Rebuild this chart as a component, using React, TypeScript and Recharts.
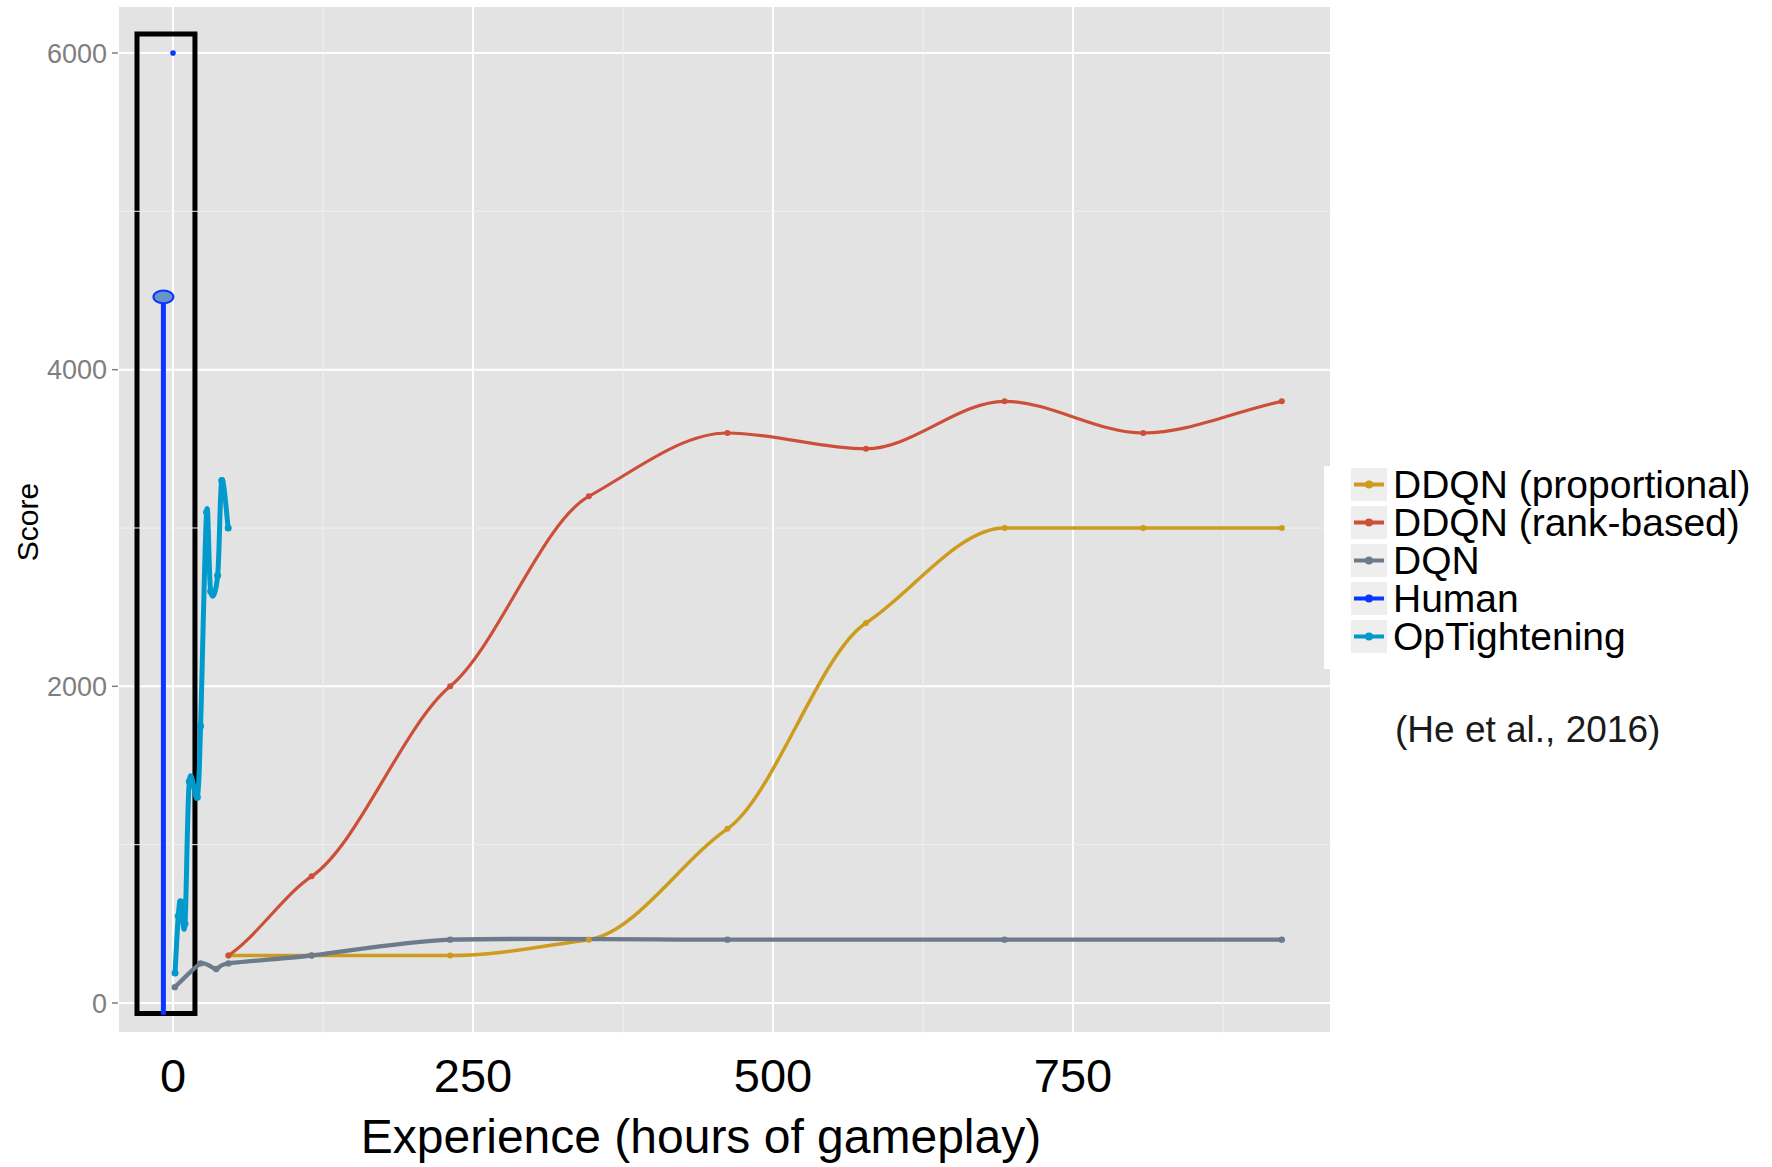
import { LineChart, Line, XAxis, YAxis, CartesianGrid, ReferenceArea, ReferenceLine } from 'recharts';

// hours of gameplay at which the DDQN agents were evaluated
const hours = [46.2, 115.5, 231, 346.5, 462, 577.5, 693, 808.5, 924];
const ddqnProportional = [300, 300, 300, 400, 1100, 2400, 3000, 3000, 3000];
const ddqnRank = [300, 800, 2000, 3200, 3600, 3500, 3800, 3600, 3800];

const dqnHours = [1.5, 23, 36, 46.2, 115.5, 231, 462, 693, 924];
const dqnScores = [100, 250, 215, 250, 300, 400, 400, 400, 400];

const opHours = [1.7, 4.4, 6.4, 10, 13.6, 20.3, 23, 28, 31.4, 37.2, 40.6, 46];
const opScores = [190, 550, 640, 500, 1400, 1300, 1750, 3100, 2600, 2700, 3300, 3000];

const humanHours = [-8, -8];
const humanScores = [-75, 4460];
const humanBestHours = [0];
const humanBestScores = [6000];

// black box drawn round the first hours
const boxHours = [-30, 18.3];
const boxScores = [-66, 6120];

const xTicks = [0, 250, 500, 750];
const xMinor = [125, 375, 625, 875];
const yTicks = [0, 2000, 4000, 6000];
const yMinor = [1000, 3000, 5000];

const series = [
    { name: 'DDQN (proportional)', color: '#CD9B1D' },
    { name: 'DDQN (rank-based)', color: '#CD4F39' },
    { name: 'DQN', color: '#6C7B8B' },
    { name: 'Human', color: '#0a36ff' },
    { name: 'OpTightening', color: '#009ACD' },
];

const zip = (xs: number[], ys: number[]) => xs.map((x, i) => ({ x, y: ys[i] }));

const FONT = '"Liberation Sans", Arial, Helvetica, sans-serif';

// cardinal spline through the points, tangents shrunk by the tension
const cardinal = (tension: number) => (context: any) => {
    let pts: number[][] = [];
    const k = (1 - tension) / 6;
    return {
        areaStart() {},
        areaEnd() {},
        lineStart() {
            pts = [];
        },
        lineEnd() {
            const n = pts.length;
            if (!n) return;
            context.moveTo(pts[0][0], pts[0][1]);
            for (let i = 0; i < n - 1; i++) {
                const p0 = pts[Math.max(i - 1, 0)];
                const p1 = pts[i];
                const p2 = pts[i + 1];
                const p3 = pts[Math.min(i + 2, n - 1)];
                context.bezierCurveTo(
                    p1[0] + (p2[0] - p0[0]) * k,
                    p1[1] + (p2[1] - p0[1]) * k,
                    p2[0] - (p3[0] - p1[0]) * k,
                    p2[1] - (p3[1] - p1[1]) * k,
                    p2[0],
                    p2[1]
                );
            }
        },
        point(x: number, y: number) {
            pts.push([+x, +y]);
        },
    };
};

// monotone cubic, with the tangents scaled down so each step gets an S shape
const softMonotone = (scale: number) => (context: any) => {
    let xs: number[] = [];
    let ys: number[] = [];
    return {
        areaStart() {},
        areaEnd() {},
        lineStart() {
            xs = [];
            ys = [];
        },
        point(x: number, y: number) {
            xs.push(+x);
            ys.push(+y);
        },
        lineEnd() {
            const n = xs.length;
            if (!n) return;
            context.moveTo(xs[0], ys[0]);
            if (n === 1) return;
            const h: number[] = [];
            const s: number[] = [];
            for (let i = 0; i < n - 1; i++) {
                h[i] = xs[i + 1] - xs[i];
                s[i] = h[i] ? (ys[i + 1] - ys[i]) / h[i] : 0;
            }
            const t: number[] = [];
            for (let i = 1; i < n - 1; i++) {
                const s0 = s[i - 1], s1 = s[i], h0 = h[i - 1], h1 = h[i];
                const p = (s0 * h1 + s1 * h0) / (h0 + h1);
                t[i] = ((Math.sign(s0) + Math.sign(s1)) * Math.min(Math.abs(s0), Math.abs(s1), 0.5 * Math.abs(p)) || 0) * scale;
            }
            t[0] = n > 2 ? (3 * s[0] - t[1]) / 2 * scale : s[0];
            t[n - 1] = n > 2 ? (3 * s[n - 2] - t[n - 2]) / 2 * scale : s[0];
            for (let i = 0; i < n - 1; i++) {
                const dx = h[i] / 3;
                context.bezierCurveTo(xs[i] + dx, ys[i] + t[i] * dx, xs[i + 1] - dx, ys[i + 1] - t[i + 1] * dx, xs[i + 1], ys[i + 1]);
            }
        },
    };
};

const stepped = softMonotone(0.6);
const smooth = cardinal(0.35);
const wiggly = cardinal(0);

const HumanTop = (props: any) => {
    const { cx, cy, index } = props;
    if (index !== 1) return <g key={`h-${index}`} />;
    return <ellipse key={`h-${index}`} cx={cx} cy={cy} rx={10} ry={6.3} fill="#6b94c6" stroke="#0a36ff" strokeWidth={2} />;
};

const App = () => {
    return (
        <div style={{ position: 'absolute', left: 0, top: 0, width: 1772, height: 1167, background: '#fff', fontFamily: FONT }}>
            <LineChart width={1772} height={1167} margin={{ top: 6, right: 441, bottom: 0, left: 8 }}>
                <CartesianGrid fill="#e3e3e3" stroke="#ffffff" strokeWidth={2} />
                <XAxis
                    type="number"
                    dataKey="x"
                    domain={[-45.83, 965]}
                    allowDataOverflow
                    ticks={xTicks}
                    axisLine={false}
                    tickLine={false}
                    tickSize={0}
                    tickMargin={26}
                    height={134}
                    tick={{ fontSize: 47, fill: '#000', fontFamily: FONT }}
                    label={{
                        content: () => (
                            <text x={701} y={1153} textAnchor="middle" fontSize={48} fill="#000" fontFamily={FONT}>
                                Experience (hours of gameplay)
                            </text>
                        ),
                    }}
                />
                <YAxis
                    type="number"
                    dataKey="y"
                    domain={[-189.5, 6296.8]}
                    allowDataOverflow
                    ticks={yTicks}
                    width={110}
                    axisLine={false}
                    tickSize={6}
                    tickMargin={5}
                    tickLine={{ stroke: '#7f7f7f', strokeWidth: 1.5 }}
                    tick={{ fontSize: 27, fill: '#7f7f7f', fontFamily: FONT }}
                    label={{
                        content: () => (
                            <text transform="translate(37.5,522) rotate(-90)" textAnchor="middle" fontSize={30} fill="#000" fontFamily={FONT}>
                                Score
                            </text>
                        ),
                    }}
                />
                {xMinor.map(v => (
                    <ReferenceLine key={`xm${v}`} x={v} stroke="#f0f0f0" strokeWidth={1} />
                ))}
                {yMinor.map(v => (
                    <ReferenceLine key={`ym${v}`} y={v} stroke="#f0f0f0" strokeWidth={1} />
                ))}
                <ReferenceArea
                    x1={boxHours[0]}
                    x2={boxHours[1]}
                    y1={boxScores[0]}
                    y2={boxScores[1]}
                    fill="none"
                    fillOpacity={0}
                    stroke="#000"
                    strokeWidth={5}
                    ifOverflow="visible"
                />
                <Line
                    data={zip(hours, ddqnProportional)}
                    dataKey="y"
                    type={stepped as any}
                    stroke={series[0].color}
                    strokeWidth={3.5}
                    dot={{ r: 3, fill: series[0].color, stroke: 'none' }}
                    isAnimationActive={false}
                />
                <Line
                    data={zip(hours, ddqnRank)}
                    dataKey="y"
                    type={stepped as any}
                    stroke={series[1].color}
                    strokeWidth={3.2}
                    dot={{ r: 3, fill: series[1].color, stroke: 'none' }}
                    isAnimationActive={false}
                />
                <Line
                    data={zip(dqnHours, dqnScores)}
                    dataKey="y"
                    type={smooth as any}
                    stroke={series[2].color}
                    strokeWidth={4.3}
                    dot={{ r: 3.2, fill: series[2].color, stroke: 'none' }}
                    isAnimationActive={false}
                />
                <Line
                    data={zip(humanHours, humanScores)}
                    dataKey="y"
                    type="linear"
                    stroke={series[3].color}
                    strokeWidth={5}
                    dot={HumanTop}
                    isAnimationActive={false}
                />
                <Line
                    data={zip(humanBestHours, humanBestScores)}
                    dataKey="y"
                    type="linear"
                    stroke={series[3].color}
                    dot={{ r: 2.8, fill: series[3].color, stroke: 'none' }}
                    isAnimationActive={false}
                />
                <Line
                    data={zip(opHours, opScores)}
                    dataKey="y"
                    type={wiggly as any}
                    stroke={series[4].color}
                    strokeWidth={5}
                    dot={{ r: 3.5, fill: series[4].color, stroke: 'none' }}
                    isAnimationActive={false}
                />
            </LineChart>

            <div style={{ position: 'absolute', left: 1324, top: 466, width: 448, height: 203, background: '#fff' }}>
                {series.map((s, i) => (
                    <div key={s.name} style={{ position: 'absolute', left: 27, top: 2 + i * 38, height: 33, display: 'flex', alignItems: 'center' }}>
                        <svg width={36} height={33} style={{ display: 'block' }}>
                            <rect x={0} y={0} width={36} height={33} fill="#eeeeee" />
                            <line x1={3} x2={33} y1={16.5} y2={16.5} stroke={s.color} strokeWidth={4} />
                            <circle cx={18} cy={16.5} r={4} fill={s.color} />
                        </svg>
                        <span style={{ marginLeft: 6, fontSize: 39, lineHeight: '33px', color: '#000', whiteSpace: 'nowrap' }}>{s.name}</span>
                    </div>
                ))}
            </div>
            <div style={{ position: 'absolute', left: 1395, top: 708, fontSize: 37, lineHeight: '44px', color: '#1a1a1a', whiteSpace: 'nowrap' }}>
                (He et al., 2016)
            </div>
        </div>
    );
};

export default App;
